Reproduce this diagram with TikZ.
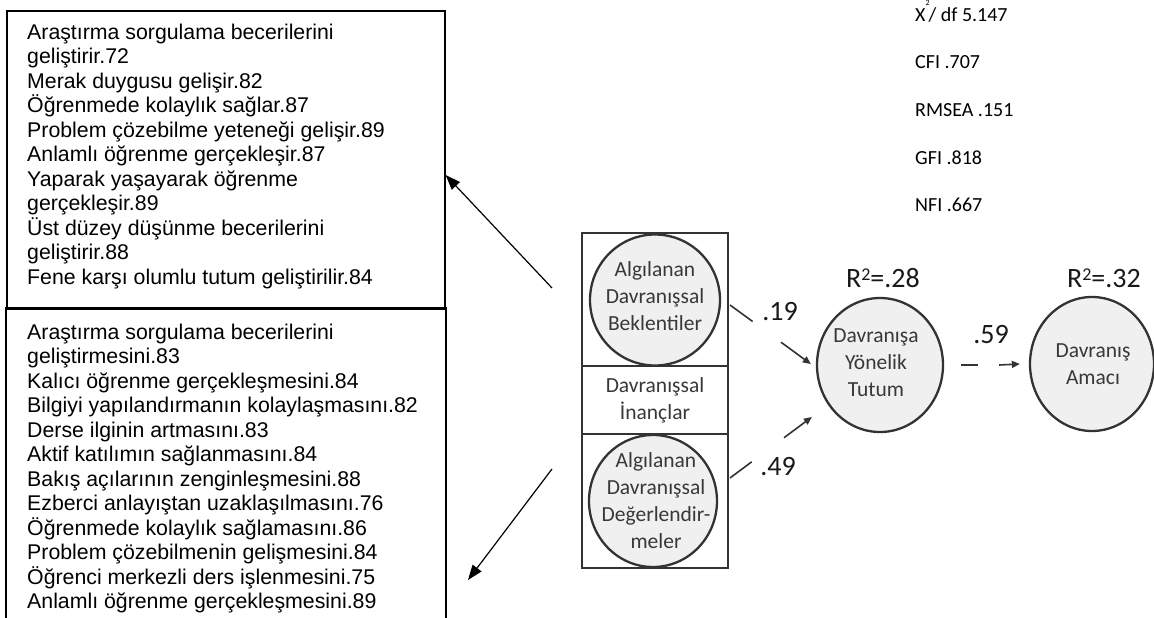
\documentclass[tikz,border=0pt]{standalone}
\usepackage{fontspec}
\setmainfont{Liberation Sans}
\newfontfamily\calibri{Carlito}
\usetikzlibrary{arrows.meta,calc,shapes.geometric}
\definecolor{semline}{HTML}{333333}
\definecolor{semfill}{HTML}{F0F0F0}
\definecolor{semtext}{HTML}{383838}

\begin{document}
\begin{tikzpicture}[x=1pt,y=-1pt,
  listline/.style={anchor=base west, inner sep=0, font=\fontsize{21.3}{24.5}\selectfont},
  listbox/.style={draw=black, line width=1.6pt},
  pointer/.style={line width=1.2pt, -{Triangle[length=15pt,width=11pt]}},
  latent/.style={ellipse, draw=semline, fill=semfill, line width=2.3pt, inner sep=0},
  semlabel/.style={align=center, inner sep=0, text=semtext, font=\calibri\fontsize{21.5}{27}\selectfont},
  coef/.style={anchor=base, inner sep=0, text=black!90, font=\calibri\fontsize{28}{30}\selectfont},
  fitstat/.style={anchor=base west, inner sep=0, font=\calibri\fontsize{20}{24}\selectfont},
  effect/.style={draw=semline, line width=1.6pt},
  effecttip/.style={effect, -{Triangle[length=8pt,width=7pt]}}
]
\useasboundingbox (0,0) rectangle (1154,618);

% ---- item lists ----
\node[listbox, minimum width=438pt, minimum height=298pt, anchor=north west, inner sep=0] (ubox) at (6,10) {};
\draw[listbox] (6,618) |- (446,308) -- (446,618);

\foreach \txt [count=\i] in {Araştırma sorgulama becerilerini, geliştirir.72, Merak duygusu gelişir.82, Öğrenmede kolaylık sağlar.87, Problem çözebilme yeteneği gelişir.89, Anlamlı öğrenme gerçekleşir.87, Yaparak yaşayarak öğrenme, gerçekleşir.89, Üst düzey düşünme becerilerini, geliştirir.88, Fene karşı olumlu tutum geliştirilir.84}
  \node[listline] (u\i) at (27,39.3+24.5*\i-24.5) {\txt};

\foreach \txt [count=\i] in {Araştırma sorgulama becerilerini, geliştirmesini.83, Kalıcı öğrenme gerçekleşmesini.84, Bilgiyi yapılandırmanın kolaylaşmasını.82, Derse ilginin artmasını.83, Aktif katılımın sağlanmasını.84, Bakış açılarının zenginleşmesini.88, Ezberci anlayıştan uzaklaşılmasını.76, Öğrenmede kolaylık sağlamasını.86, Problem çözebilmenin gelişmesini.84, Öğrenci merkezli ders işlenmesini.75, Anlamlı öğrenme gerçekleşmesini.89}
  \node[listline] (l\i) at (27,339.3+24.5*\i-24.5) {\txt};

% ---- pointers from the model to the lists ----
\coordinate (p1) at (552,288);
\coordinate (t1) at (ubox.east |- 0,175);
\draw[pointer] (p1) -- (t1);
\coordinate (p2) at (552,469);
\coordinate (t2) at (468,580);
\draw[pointer] (p2) -- (t2);

% ---- fit statistics ----
\node[fitstat] (chi) at (915,21.5) {X\raisebox{16pt}{\fontsize{8}{8}\selectfont 2}\kern-1pt/ df 5.147};
\node[fitstat] (cfi) at (915,69) {CFI .707};
\node[fitstat] (rmsea) at (915,116.5) {RMSEA .151};
\node[fitstat] (gfi) at (915,164) {GFI .818};
\node[fitstat] (nfi) at (915,211.5) {NFI .667};

% ---- behavioural beliefs block ----
\draw[semline, line width=2.2pt] (582,233) rectangle (728,568);
\draw[semline, line width=2.2pt] (582,366) -- (728,366);
\draw[semline, line width=2.2pt] (582,434) -- (728,434);

\node[latent, minimum width=130pt, minimum height=131pt] (abb) at (655,300) {};
\node[semlabel] (abbt) at (655,296) {Algılanan\\Davranışsal\\Beklentiler};
\node[semlabel] (inanc) at (655,400) {Davranışsal\\İnançlar};
\node[latent, minimum width=128pt, minimum height=132pt] (adg) at (653,501) {};
\node[semlabel] (adgt) at (656,501) {Algılanan\\Davranışsal\\Değerlendir-\\meler};

% ---- outcome variables ----
\node[latent, minimum width=126pt, minimum height=134pt] (tut) at (880,365) {};
\node[semlabel] (tutt) at (876,363) {Davranışa\\Yönelik\\Tutum};
\node[latent, minimum width=124pt, minimum height=134pt] (amac) at (1092,364) {};
\node[semlabel] (amact) at (1093,364) {Davranış\\Amacı};

% ---- paths ----
\coordinate (e1s) at (730,305);
\coordinate (e1e) at ($(tut.west)+(-5,-1)$);
\draw[effect] (e1s) -- ($(e1s)!0.28!(e1e)$);
\draw[effecttip] ($(e1s)!0.63!(e1e)$) -- (e1e);

\coordinate (e2s) at (730,478);
\coordinate (e2e) at ($(tut.west)+(-4,52)$);
\draw[effect] (e2s) -- ($(e2s)!0.265!(e2e)$);
\draw[effecttip] ($(e2s)!0.66!(e2e)$) -- (e2e);

\draw[effect] ($(tut.east)+(17,0)$) -- ($(tut.east)+(34,0)$);
\draw[effecttip] ($(tut.east)+(55,0)$) -- ($(amac.west)+(-9,0)$);

% ---- coefficients ----
\node[coef] (b1) at (780,320) {.19};
\node[coef] (b2) at (778,475) {.49};
\node[coef] (b3) at (991,343) {.59};
\node[coef] (r1) at (883,287) {R\raisebox{6.5pt}{\fontsize{18}{18}\selectfont 2}=.28};
\node[coef] (r2) at (1104,287) {R\raisebox{6.5pt}{\fontsize{18}{18}\selectfont 2}=.32};
\end{tikzpicture}
\end{document}
